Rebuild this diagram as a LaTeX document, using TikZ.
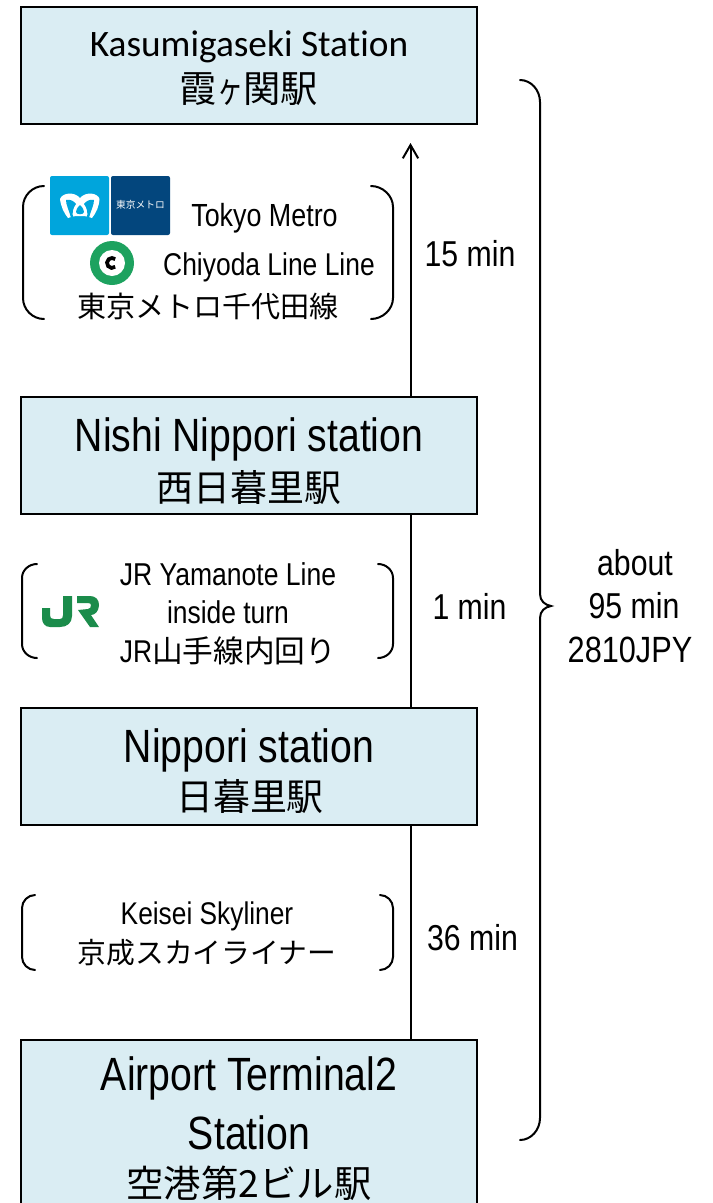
\documentclass[tikz,border=0pt]{standalone}
\usepackage{fontspec}
\setmainfont[FakeStretch=0.84]{Liberation Sans}
\newfontfamily\calib[RawFeature=-liga]{Carlito}
\newfontfamily\cjk{Noto Sans CJK JP}
\usetikzlibrary{arrows.meta}
\definecolor{boxfill}{HTML}{DAEDF3}
\definecolor{mblue}{HTML}{00A5DC}
\definecolor{mdark}{HTML}{03467D}
\definecolor{cgreen}{HTML}{1DA25F}
\definecolor{jrgreen}{HTML}{1B8C4B}
\newcommand{\fs}[1]{\fontsize{#1}{#1}\selectfont}
\tikzset{
  station/.style={draw=black,line width=1.5pt,fill=boxfill,minimum width=342pt,anchor=north west,inner sep=0pt},
  lab/.style={inner sep=0pt,anchor=center,text=black},
  conn/.style={draw=black,line width=1.5pt},
  brk/.style={draw=black,line width=1.5pt,line cap=round},
}
\begin{document}
\begin{tikzpicture}[x=0.75pt,y=-0.75pt]
\useasboundingbox (0,0) rectangle (713,1203);
\clip (0,0) rectangle (713,1203);
% station boxes
\node[station,minimum height=87.75pt] (kasu) at (20.3,6.3) {};
\node[station,minimum height=87.75pt] (nishi) at (20.3,396.3) {};
\node[station,minimum height=87.75pt] (nipp) at (20.3,707.3) {};
\node[station,minimum height=135pt] (air) at (20.3,1039.3) {};
% connectors
\coordinate (tip) at (410.5,143);
\draw[conn] (air.north -| tip) -- (nipp.south -| tip);
\draw[conn] (nipp.north -| tip) -- (nishi.south -| tip);
\draw[conn,-{Straight Barb[length=10pt,width=16pt,angle'=60]}] (nishi.north -| tip) -- (tip);
% station texts
\node[lab] (t1) at (249,47) {\calib\fs{28}Kasumigaseki Station};
\node[lab] (t2) at (249,89) {\cjk\fs{28}霞\scalebox{0.7}[1]{ヶ}関駅};
\node[lab] (t3) at (249,439) {\fs{35}Nishi Nippori station};
\node[lab] (t4) at (249,488) {\cjk\fs{27.7}西日暮里駅};
\node[lab] (t5) at (249,750) {\fs{35}Nippori station};
\node[lab] (t6) at (250,797) {\cjk\fs{27.7}日暮里駅};
\node[lab] (t7) at (249,1078) {\fs{35}Airport Terminal2};
\node[lab] (t8) at (249,1133) {\fs{35}Station};
\node[lab] (t9) at (249,1183) {\cjk\fs{28}空港第2ビル駅};
% durations
\node[lab] (d1) at (470,254) {\fs{27}15 min};
\node[lab] (d2) at (469.5,606.5) {\fs{27}1 min};
\node[lab] (d3) at (472.5,938) {\fs{27}36 min};
\node[lab] (a1) at (635,563) {\fs{27}about};
\node[lab] (a2) at (634,606) {\fs{27}95 min};
\node[lab] (a3) at (630,650) {\fs{27.4}2810JPY};
% brackets 1
\draw[brk] (44,186) .. controls (32.5,186) and (23,195.5) .. (23,207) -- (23,298) .. controls (23,309.5) and (32.5,319) .. (44,319);
\draw[brk] (371,186) .. controls (382.5,186) and (393,195.5) .. (393,207) -- (393,298) .. controls (393,309.5) and (382.5,319) .. (371,319);
% brackets 2
\draw[brk] (37,564) .. controls (29,564) and (22,570) .. (22,578) -- (22,644) .. controls (22,652) and (29,658) .. (37,658);
\draw[brk] (378,564) .. controls (386,564) and (393,570) .. (393,578) -- (393,644) .. controls (393,652) and (386,658) .. (378,658);
% brackets 3
\draw[brk] (35,895) .. controls (28,895) and (22,901) .. (22,908) -- (22,957) .. controls (22,964) and (28,970) .. (35,970);
\draw[brk] (380,895) .. controls (387,895) and (393,901) .. (393,908) -- (393,957) .. controls (393,964) and (387,970) .. (380,970);
% big brace
\draw[brk] (520,80) .. controls (531,80) and (540,90) .. (540,102) -- (540,594) .. controls (540,601) and (545,605) .. (551,606) .. controls (545,607) and (540,611) .. (540,618) -- (540,1118) .. controls (540,1130) and (531,1140) .. (520,1140);
% metro logos
\fill[mblue,rounded corners=1.5pt] (50,176) rectangle (109,235);
\fill[mdark,rounded corners=1.5pt] (111,176) rectangle (170,235);
\fill[white] (60,199) .. controls (62,193) and (74,191) .. (80,198) .. controls (86,191) and (98,193) .. (99.5,199) .. controls (99,207) and (96,213) .. (92,218) .. controls (89,217) and (86,216) .. (84,216) -- (76,216) .. controls (74,216) and (71,217) .. (68,218) .. controls (64,213) and (61,207) .. (60,199) -- cycle;
\fill[mblue] (66,200) .. controls (70,199) and (74,201) .. (76,204) .. controls (73,208) and (72,212) .. (73,218) -- (71,218) .. controls (69,210) and (66,205) .. (66,200) -- cycle;
\fill[mblue] (94,200) .. controls (90,199) and (86,201) .. (84,204) .. controls (87,208) and (88,212) .. (87,218) -- (89,218) .. controls (91,210) and (94,205) .. (94,200) -- cycle;
\fill[mblue] (80,205) .. controls (83,208) and (84,210) .. (84,212) .. controls (84,215) and (76,215) .. (76,212) .. controls (76,210) and (77,208) .. (80,205) -- cycle;
\node[lab] (mtxt) at (140.5,205) {\cjk\fs{7.3}\textcolor{white}{東京メトロ}};
% chiyoda logo
\fill[cgreen] (112,263) circle (22);
\fill[white] (112,263) circle (13);
\draw[black,line width=2.8pt] (115.2,266.8) arc (50:310:5);
% line texts
\node[lab] (m1) at (264.5,218.5) {\fs{24}Tokyo Metro};
\node[lab] (m2) at (269,267) {\fs{23.6}Chiyoda Line Line};
\node[lab] (m3) at (208,306) {\cjk\fs{21.8}東京メトロ千代田線};
\node[lab] (j1) at (228,574.5) {\fs{23.7}JR Yamanote Line};
\node[lab] (j2) at (228,612.5) {\fs{23.6}inside turn};
\node[lab] (j3) at (228,651) {\fs{23.6}JR\cjk\fs{23}山手線内回り};
\node[lab] (k1) at (207,916) {\fs{23.5}Keisei Skyliner};
\node[lab] (k2) at (207,953) {\cjk\fs{21.6}京成スカイライナー};
% JR logo
\fill[jrgreen] (63,596) -- (72,596) -- (72,616) .. controls (72,623) and (67,627) .. (60,627) -- (50,627) .. controls (45,627) and (42,623) .. (42,618) -- (42,608) -- (50,608) -- (50,615) .. controls (50,618) and (51,619) .. (54,619) -- (60,619) .. controls (62,619) and (63,618) .. (63,615) -- cycle;
\fill[jrgreen] (77,596) -- (90,596) .. controls (96,596) and (99,600) .. (99,605) .. controls (99,611) and (95,615) .. (91,615) -- (99,627) -- (90,627) -- (78,610) -- (88,609) .. controls (90,609) and (91,607) .. (91,605) .. controls (91,604) and (90,603) .. (88,603) -- (77,603) -- cycle;
\end{tikzpicture}
\end{document}
